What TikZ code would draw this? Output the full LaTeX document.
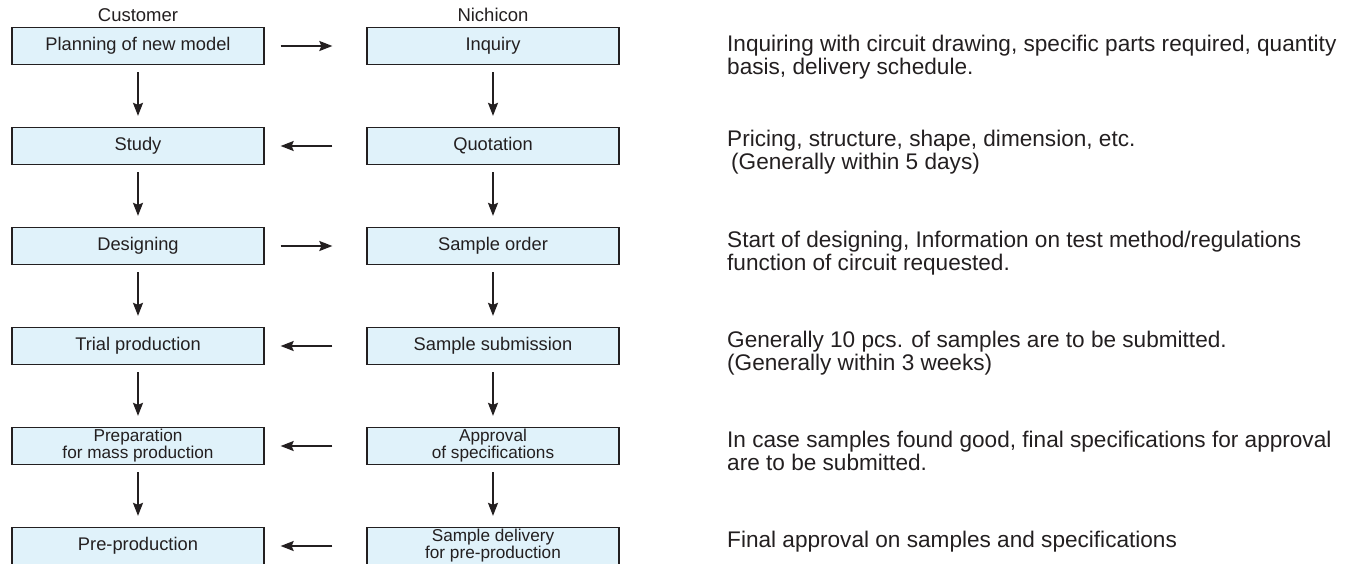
\documentclass[tikz,border=0pt]{standalone}
\usepackage{fontspec}
\setmainfont{Liberation Sans}
\usetikzlibrary{arrows.meta}
\definecolor{boxfill}{HTML}{E0F2FA}
\definecolor{ink}{HTML}{231F20}
\newcommand\desclines[2]{\vtop{\hbox{#1}\hbox{#2}}}
\begin{document}
\begin{tikzpicture}[x=1pt,y=-1pt,
  stepbox/.style={draw=ink,fill=boxfill,line width=1.3pt,minimum width=252pt,minimum height=37pt,inner sep=0pt,text=ink,font=\fontsize{18.3}{18}\selectfont,align=center},
  twoline/.style={font=\fontsize{17.2}{14.5}\selectfont},
  head/.style={text=ink,font=\fontsize{18.5}{18.5}\selectfont},
  desc/.style={text=ink,anchor=base west,inner sep=0pt,font=\fontsize{22.6}{23.2}\selectfont},
  arr/.style={draw=ink,line width=1.7pt,-{Stealth[length=13pt,width=10pt,inset=2pt]}},
  hshort/.style={shorten <=16pt,shorten >=34pt},
  hshortr/.style={shorten <=34pt,shorten >=16pt},
  vshort/.style={shorten <=7pt,shorten >=11pt}]
\useasboundingbox (0,0) rectangle (1349,563);
\node[head] (hc) at (138,15) {Customer};
\node[head] (hn) at (493,15) {Nichicon};
% left column
\node[stepbox] (c1) at (138,46) {Planning of new model};
\node[stepbox] (c2) at (138,146) {Study};
\node[stepbox] (c3) at (138,246) {Designing};
\node[stepbox] (c4) at (138,346) {Trial production};
\node[stepbox,twoline] (c5) at (138,446) {Preparation\\for mass production};
\node[stepbox] (c6) at (138,546) {Pre-production};
% right column
\node[stepbox] (n1) at (493,46) {Inquiry};
\node[stepbox] (n2) at (493,146) {Quotation};
\node[stepbox] (n3) at (493,246) {Sample order};
\node[stepbox] (n4) at (493,346) {Sample submission};
\node[stepbox,twoline] (n5) at (493,446) {Approval\\of specifications};
\node[stepbox,twoline] (n6) at (493,546) {Sample delivery\\for pre-production};
% vertical arrows
\foreach \a/\b in {c1/c2,c2/c3,c3/c4,c4/c5,c5/c6,n1/n2,n2/n3,n3/n4,n4/n5,n5/n6}
  \draw[arr,vshort] (\a.south) -- (\b.north);
% horizontal arrows
\draw[arr,hshort] (c1.east) -- (n1.west);
\draw[arr,hshortr] (n2.west) -- (c2.east);
\draw[arr,hshort] (c3.east) -- (n3.west);
\draw[arr,hshortr] (n4.west) -- (c4.east);
\draw[arr,hshortr] (n5.west) -- (c5.east);
\draw[arr,hshortr] (n6.west) -- (c6.east);
% descriptions
\node[desc] (d1) at (727,51.5) {\desclines{Inquiring with circuit drawing, specific parts required, quantity}{basis, delivery schedule.}};
\node[desc] (d2) at (727,146.7) {\desclines{Pricing, structure, shape, dimension, etc.}{\hspace{4pt}(Generally within 5 days)}};
\node[desc] (d3) at (727,247.5) {\desclines{Start of designing, Information on test method/regulations}{function of circuit requested.}};
\node[desc] (d4) at (727,347.7) {\desclines{Generally 10 pcs. of samples are to be submitted.}{(Generally within 3 weeks)}};
\node[desc] (d5) at (727,447.3) {\desclines{In case samples found good, final specifications for approval}{are to be submitted.}};
\node[desc] (d6) at (727,547.3) {Final approval on samples and specifications};
\end{tikzpicture}
\end{document}
